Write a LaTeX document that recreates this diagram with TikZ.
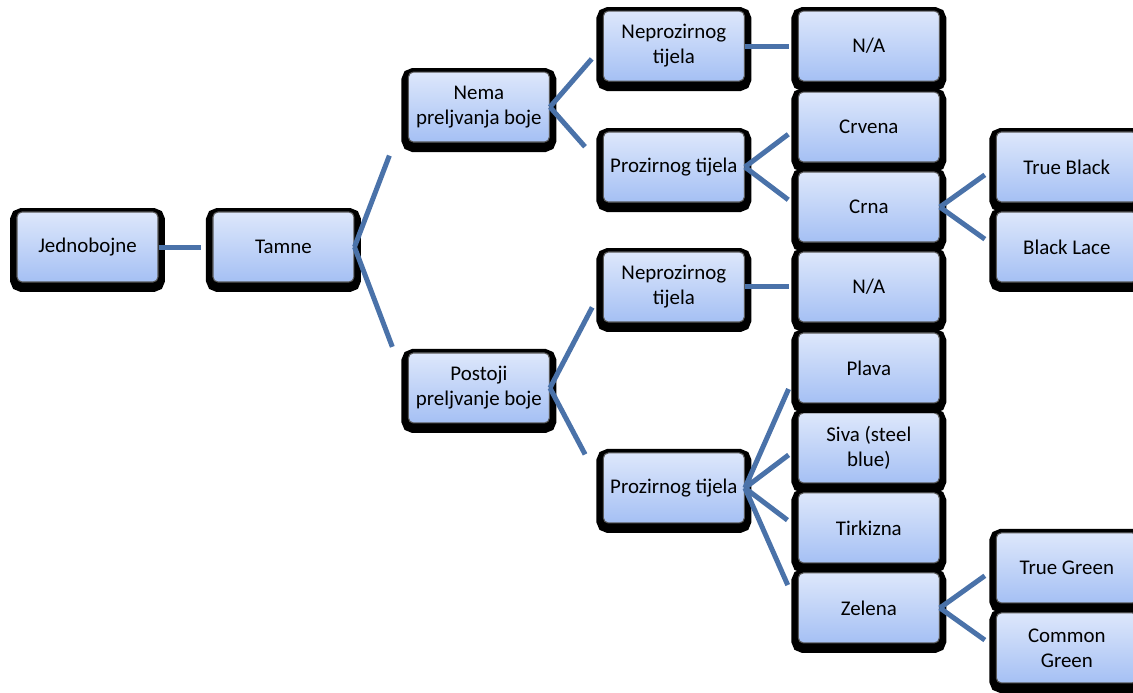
\documentclass[tikz,border=0pt]{standalone}
\usepackage{fontspec}
\setmainfont{Carlito}
\usetikzlibrary{positioning,shadows}
\definecolor{boxtop}{HTML}{DDE7FB}
\definecolor{boxbot}{HTML}{A5C0F4}
\definecolor{linkblue}{HTML}{4A72A9}
\tikzset{box/.style={rectangle,rounded corners=0.1cm,draw=black!65,line width=0.6pt,
    top color=boxtop,bottom color=boxbot,minimum width=2.82cm,minimum height=1.4cm,
    align=center,font=\fontsize{11.9}{14.2}\selectfont,
    general shadow={draw=black,fill=black,line width=0.28cm,shadow yshift=-0.06cm}},
  link/.style={draw=linkblue,line width=0.1cm},
  node distance=1.6cm and 3.9cm,on grid}

\begin{document}
\begin{tikzpicture}[x=0.02cm,y=-0.02cm]
  \useasboundingbox (0,0) rectangle (1133,693);
  \node[box] (jedno) at (87.5,247) {Jednobojne};
  \node[box] (tamne) [right=3.92cm of jedno] {Tamne};
  \node[box] (nema) [above right=2.8cm and 3.91cm of tamne] {Nema\\preljvanja boje};
  \node[box] (postoji) [below right=2.82cm and 3.91cm of tamne] {Postoji\\preljvanje boje};
  \node[box] (neprA) [above right=1.22cm and 3.9cm of nema] {Neprozirnog\\tijela};
  \node[box] (prozA) [below right=1.2cm and 3.9cm of nema] {Prozirnog tijela};
  \node[box] (neprB) [above right=2.02cm and 3.9cm of postoji] {Neprozirnog\\tijela};
  \node[box] (prozB) [below right=2cm and 3.9cm of postoji] {Prozirnog tijela};
  \node[box] (naA) [right=of neprA] {N/A};
  \node[box] (crvena) [above right=0.8cm and 3.9cm of prozA] {Crvena};
  \node[box] (crna) [below right=0.8cm and 3.9cm of prozA] {Crna};
  \node[box] (naB) [right=of neprB] {N/A};
  \node[box] (siva) [above right=0.8cm and 3.9cm of prozB] {Siva (steel\\blue)};
  \node[box] (plava) [above=of siva] {Plava};
  \node[box] (tirkizna) [below right=0.8cm and 3.9cm of prozB] {Tirkizna};
  \node[box] (zelena) [below=of tirkizna] {Zelena};
  \node[box] (trueblack) [above right=0.8cm and 3.96cm of crna] {True Black};
  \node[box] (blacklace) [below right=0.8cm and 3.96cm of crna] {Black Lace};
  \node[box] (truegreen) [above right=0.8cm and 3.96cm of zelena] {True Green};
  \node[box] (commongreen) [below right=0.8cm and 3.96cm of zelena] {Common\\Green};

  \path[link]
  (jedno.east) edge [shorten >=0.22cm] (tamne.west)
  (tamne.east) edge [shorten >=1.04cm] (nema.west)
  (tamne.east) edge [shorten >=0.88cm] (postoji.west)
  (nema.east) edge [shorten >=0.34cm] (neprA.west)
  (nema.east) edge [shorten >=0.54cm] (prozA.west)
  (postoji.east) edge [shorten >=0.46cm] (neprB.west)
  (postoji.east) edge [shorten >=0.76cm] (prozB.west)
  (neprA.east) edge [shorten >=0.18cm] (naA.west)
  (neprB.east) edge [shorten >=0.18cm] (naB.west)
  (prozA.east) edge [shorten >=0.24cm] (crvena.west)
  (prozA.east) edge [shorten >=0.24cm] (crna.west)
  (crna.east) edge [shorten >=0.27cm] (trueblack.west)
  (crna.east) edge [shorten >=0.27cm] (blacklace.west)
  (prozB.east) edge [shorten >=0.46cm] (plava.west)
  (prozB.east) edge [shorten >=0.23cm] (siva.west)
  (prozB.east) edge [shorten >=0.26cm] (tirkizna.west)
  (prozB.east) edge [shorten >=0.5cm] (zelena.west)
  (zelena.east) edge [shorten >=0.27cm] (truegreen.west)
  (zelena.east) edge [shorten >=0.27cm] (commongreen.west)
  ;
\end{tikzpicture}
\end{document}
